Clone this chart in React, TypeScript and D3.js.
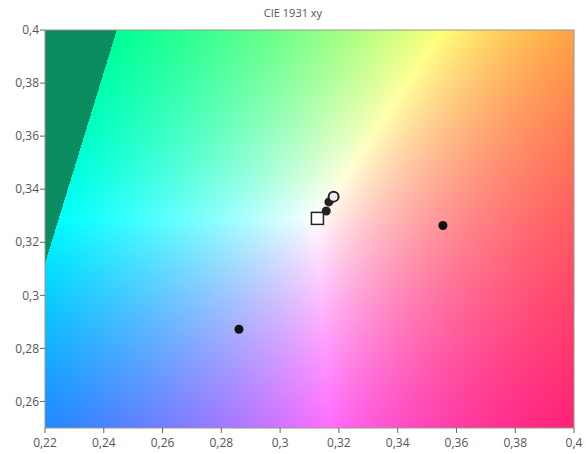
import React, { useMemo } from 'react';
import * as d3 from 'd3';

// axis ticks
const xTicks = [0.22, 0.24, 0.26, 0.28, 0.3, 0.32, 0.34, 0.36, 0.38, 0.4];
const yTicks = [0.26, 0.28, 0.3, 0.32, 0.34, 0.36, 0.38, 0.4];

// measured points
const dotX = [0.286, 0.3554];
const dotY = [0.2872, 0.3263];
const clusterX = [0.3157, 0.3166];
const clusterY = [0.3318, 0.3352];
const ringX = [0.3182];
const ringY = [0.3372];
const whiteX = [0.3127];
const whiteY = [0.329];

const W = 586;
const H = 454;
const margin = { top: 30, right: 12, bottom: 26, left: 45 };
const outsideColor = [10, 140, 96];

// xy -> normalised linear sRGB (null if outside the sRGB gamut)
const xyToRgb = (x: number, y: number) => {
  const X = x / y;
  const Z = (1 - x - y) / y;
  const r = 3.2406 * X - 1.5372 - 0.4986 * Z;
  const g = -0.9689 * X + 1.8758 + 0.0415 * Z;
  const b = 0.0557 * X - 0.204 + 1.057 * Z;
  if (r < 0 || g < 0 || b < 0) return null;
  const m = Math.max(r, g, b);
  return [r / m, g / m, b / m];
};

const App = () => {
  const iw = W - margin.left - margin.right;
  const ih = H - margin.top - margin.bottom;
  const x = d3.scaleLinear().domain([0.22, 0.4]).range([0, iw]);
  const y = d3.scaleLinear().domain([0.25, 0.4]).range([ih, 0]);
  const fmt = (v: number) => String(+v.toFixed(2)).replace('.', ',');

  const bg = useMemo(() => {
    const canvas = document.createElement('canvas');
    canvas.width = iw;
    canvas.height = ih;
    const ctx = canvas.getContext('2d');
    if (!ctx) return '';
    const img = ctx.createImageData(iw, ih);
    for (let j = 0; j < ih; j++) {
      const cy = y.invert(j + 0.5);
      for (let i = 0; i < iw; i++) {
        const cx = x.invert(i + 0.5);
        const c = xyToRgb(cx, cy);
        const k = (j * iw + i) * 4;
        if (c) {
          img.data[k] = Math.round(c[0] * 255);
          img.data[k + 1] = Math.round(c[1] * 255);
          img.data[k + 2] = Math.round(c[2] * 255);
        } else {
          img.data[k] = outsideColor[0];
          img.data[k + 1] = outsideColor[1];
          img.data[k + 2] = outsideColor[2];
        }
        img.data[k + 3] = 255;
      }
    }
    ctx.putImageData(img, 0, 0);
    return canvas.toDataURL();
  }, []);

  const textStyle = { fontFamily: '"Open Sans", sans-serif', fontSize: 12, fill: '#555' };

  return (
    <div style={{ position: 'absolute', left: 0, top: 0 }}>
      <svg width={W} height={H} style={{ display: 'block', background: '#fff' }}>
        <text x={W / 2} y={17} textAnchor="middle" style={{ ...textStyle, fontSize: 11 }}>CIE 1931 xy</text>
        <g transform={`translate(${margin.left},${margin.top})`}>
          <image href={bg} x={0} y={0} width={iw} height={ih} preserveAspectRatio="none" />
          <rect x={0} y={0} width={iw} height={ih} fill="none" stroke="#9a9a8a" strokeWidth={1} />

          {xTicks.map(t => (
            <g key={'x' + t} transform={`translate(${x(t)},${ih})`}>
              <line y1={0} y2={5} stroke="#666" />
              <text y={19} textAnchor="middle" style={textStyle}>{fmt(t)}</text>
            </g>
          ))}
          {yTicks.map(t => (
            <g key={'y' + t} transform={`translate(0,${y(t)})`}>
              <line x1={-5} x2={0} stroke="#666" />
              <text x={-6} dy="0.35em" textAnchor="end" style={textStyle}>{fmt(t)}</text>
            </g>
          ))}

          {dotX.map((d, i) => (
            <circle key={'d' + i} cx={x(d)} cy={y(dotY[i])} r={4.5} fill="#111" />
          ))}
          {whiteX.map((d, i) => (
            <rect key={'w' + i} x={x(d) - 6} y={y(whiteY[i]) - 6} width={12} height={12} fill="#fff" stroke="#222" strokeWidth={1.5} />
          ))}
          {clusterX.map((d, i) => (
            <circle key={'c' + i} cx={x(d)} cy={y(clusterY[i])} r={4.5} fill="#222" />
          ))}
          {ringX.map((d, i) => (
            <circle key={'r' + i} cx={x(d)} cy={y(ringY[i])} r={5} fill="#eee" stroke="#222" strokeWidth={2} />
          ))}
        </g>
      </svg>
    </div>
  );
};

export default App;
